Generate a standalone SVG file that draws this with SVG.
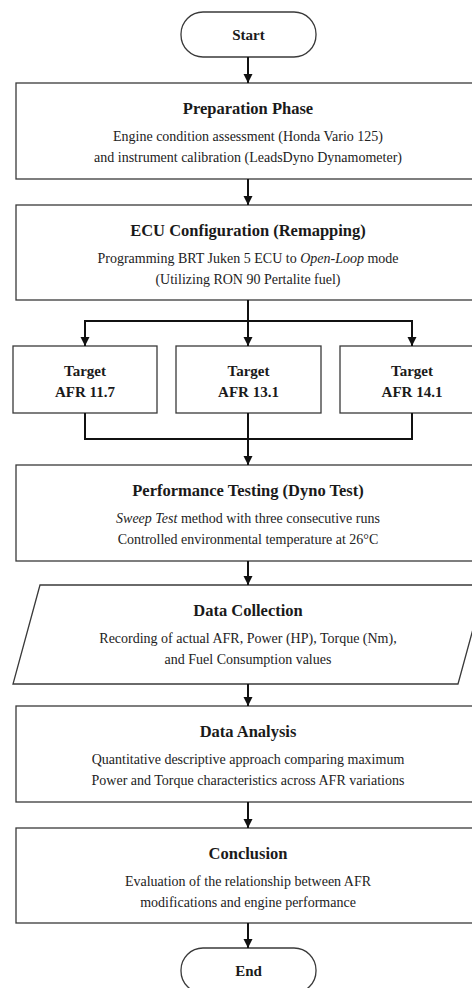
<svg xmlns="http://www.w3.org/2000/svg" width="472" height="988" viewBox="0 0 472 988">
<style>
.box{fill:#fff;stroke:#3a3a3a;stroke-width:1.3}
.t{font-family:"Liberation Serif","Times New Roman",serif;font-weight:bold;font-size:16.5px;fill:#1a1a1a;text-anchor:middle}
.s{font-family:"Liberation Serif","Times New Roman",serif;font-weight:bold;font-size:15px;fill:#1a1a1a;text-anchor:middle}
.b{font-family:"Liberation Serif","Times New Roman",serif;font-size:14px;fill:#222;text-anchor:middle}
.i{font-style:italic}
.c{fill:none;stroke:#111;stroke-width:2}
</style>
<defs>
<marker id="ah" markerUnits="userSpaceOnUse" markerWidth="12" markerHeight="10" refX="9" refY="5" orient="auto">
<path d="M0,0.5 L9,5 L0,9.5 Z" fill="#111"/>
</marker>
</defs>
<g id="start">
<rect class="box" x="181" y="12" width="135" height="45" rx="22" ry="22"/>
<text class="s" x="248.5" y="40">Start</text>
</g>
<g id="prep">
<rect class="box" x="16" y="83" width="466" height="96"/>
<text class="t" x="248" y="114">Preparation Phase</text>
<text class="b" x="248" y="141">Engine condition assessment (Honda Vario 125)</text>
<text class="b" x="248" y="162">and instrument calibration (LeadsDyno Dynamometer)</text>
</g>
<g id="ecu">
<rect class="box" x="16" y="205" width="466" height="95"/>
<text class="t" x="248" y="236">ECU Configuration (Remapping)</text>
<text class="b" x="248" y="263">Programming BRT Juken 5 ECU to <tspan class="i">Open-Loop</tspan> mode</text>
<text class="b" x="248" y="284">(Utilizing RON 90 Pertalite fuel)</text>
</g>
<g id="afr117">
<rect class="box" x="13" y="346" width="144" height="67"/>
<text class="s" x="85" y="376">Target</text>
<text class="s" x="85" y="397">AFR 11.7</text>
</g>
<g id="afr131">
<rect class="box" x="176" y="346" width="145" height="67"/>
<text class="s" x="248.5" y="376">Target</text>
<text class="s" x="248.5" y="397">AFR 13.1</text>
</g>
<g id="afr141">
<rect class="box" x="340" y="346" width="144" height="67"/>
<text class="s" x="412" y="376">Target</text>
<text class="s" x="412" y="397">AFR 14.1</text>
</g>
<g id="perf">
<rect class="box" x="16" y="465" width="466" height="96"/>
<text class="t" x="248" y="496">Performance Testing (Dyno Test)</text>
<text class="b" x="248" y="523"><tspan class="i">Sweep Test</tspan> method with three consecutive runs</text>
<text class="b" x="248" y="544">Controlled environmental temperature at 26°C</text>
</g>
<g id="collect">
<polygon class="box" points="40,585 485,585 458,684 13,684"/>
<text class="t" x="248" y="616">Data Collection</text>
<text class="b" x="248" y="643">Recording of actual AFR, Power (HP), Torque (Nm),</text>
<text class="b" x="248" y="664">and Fuel Consumption values</text>
</g>
<g id="analysis">
<rect class="box" x="16" y="706" width="466" height="96"/>
<text class="t" x="248" y="737">Data Analysis</text>
<text class="b" x="248" y="764">Quantitative descriptive approach comparing maximum</text>
<text class="b" x="248" y="785">Power and Torque characteristics across AFR variations</text>
</g>
<g id="conclusion">
<rect class="box" x="16" y="828" width="466" height="95"/>
<text class="t" x="248" y="859">Conclusion</text>
<text class="b" x="248" y="886">Evaluation of the relationship between AFR</text>
<text class="b" x="248" y="907">modifications and engine performance</text>
</g>
<g id="end">
<rect class="box" x="181" y="948" width="135" height="45" rx="22" ry="22"/>
<text class="s" x="248.5" y="976">End</text>
</g>
<g id="connectors">
<line class="c" x1="248" y1="57" x2="248" y2="83" marker-end="url(#ah)"/>
<line class="c" x1="248" y1="179" x2="248" y2="205" marker-end="url(#ah)"/>
<line class="c" x1="248" y1="300" x2="248" y2="321"/>
<line class="c" x1="84" y1="321" x2="413" y2="321"/>
<line class="c" x1="85" y1="321" x2="85" y2="346" marker-end="url(#ah)"/>
<line class="c" x1="248" y1="321" x2="248" y2="346" marker-end="url(#ah)"/>
<line class="c" x1="412" y1="321" x2="412" y2="346" marker-end="url(#ah)"/>
<polyline class="c" points="85,413 85,439 412,439 412,413"/>
<line class="c" x1="248" y1="413" x2="248" y2="465" marker-end="url(#ah)"/>
<line class="c" x1="248" y1="561" x2="248" y2="585" marker-end="url(#ah)"/>
<line class="c" x1="248" y1="684" x2="248" y2="706" marker-end="url(#ah)"/>
<line class="c" x1="248" y1="802" x2="248" y2="828" marker-end="url(#ah)"/>
<line class="c" x1="248" y1="923" x2="248" y2="948" marker-end="url(#ah)"/>
</g>
</svg>
